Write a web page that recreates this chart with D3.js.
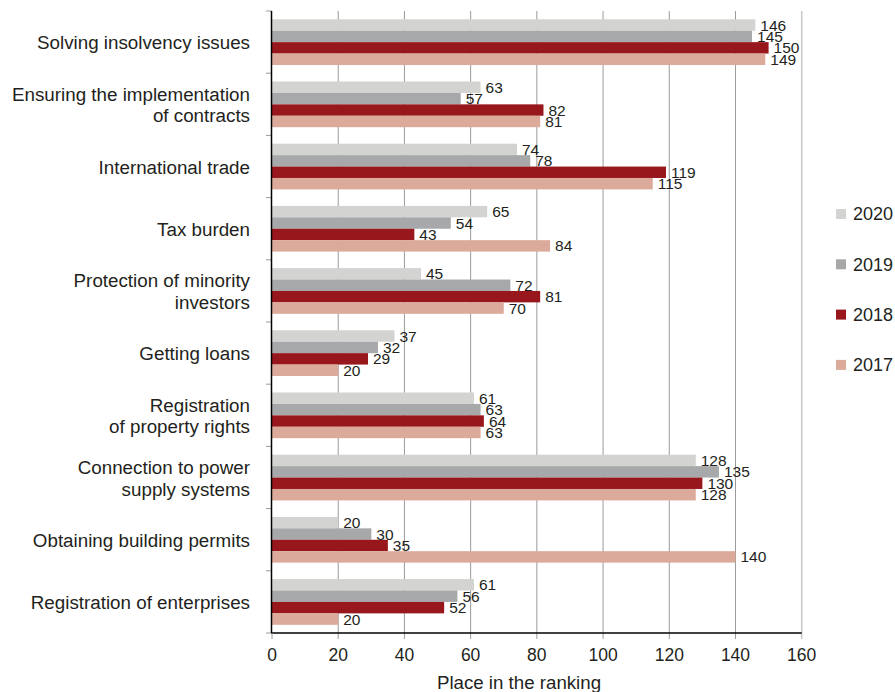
<!DOCTYPE html>
<html lang="en">
    <head>
        <meta charset="UTF-8" />
        <title>Place in the ranking</title>
        <script src="https://d3js.org/d3.v7.min.js"></script>
        <style>
            body {
                margin: 0;
                background: #fff;
            }
            svg text {
                font-family: "Liberation Sans", Arial, Helvetica, sans-serif;
                fill: #231f20;
            }
        </style>
    </head>
    <body>
        <svg id="chart" width="895" height="692"></svg>

        <script>
            const categories = [
                ["Solving insolvency issues"],
                ["Ensuring the implementation", "of contracts"],
                ["International trade"],
                ["Tax burden"],
                ["Protection of minority", "investors"],
                ["Getting loans"],
                ["Registration", "of property rights"],
                ["Connection to power", "supply systems"],
                ["Obtaining building permits"],
                ["Registration of enterprises"],
            ];
            const years = ["2020", "2019", "2018", "2017"];
            const values2020 = [146, 63, 74, 65, 45, 37, 61, 128, 20, 61];
            const values2019 = [145, 57, 78, 54, 72, 32, 63, 135, 30, 56];
            const values2018 = [150, 82, 119, 43, 81, 29, 64, 130, 35, 52];
            const values2017 = [149, 81, 115, 84, 70, 20, 63, 128, 140, 20];
            const xTicks = [0, 20, 40, 60, 80, 100, 120, 140, 160];

            const seriesValues = {
                2020: values2020,
                2019: values2019,
                2018: values2018,
                2017: values2017,
            };
            const colors = {
                2020: "#d3d3d1",
                2019: "#a7a8aa",
                2018: "#98171d",
                2017: "#dbaa9a",
            };

            const svg = d3.select("#chart");
            const plotLeft = 272,
                plotRight = 801.7,
                plotTop = 11,
                plotBottom = 633;

            const keys = categories.map((c) => c.join(" "));

            const x = d3
                .scaleLinear()
                .domain([0, 160])
                .range([plotLeft, plotRight]);
            const y0 = d3
                .scaleBand()
                .domain(keys)
                .range([plotTop, plotBottom]);
            const y1 = d3
                .scaleBand()
                .domain(years)
                .range([8.3, y0.bandwidth() - 8.2]);

            // grid lines
            svg.append("g")
                .selectAll("line")
                .data(xTicks.slice(1))
                .enter()
                .append("line")
                .attr("x1", (d) => x(d))
                .attr("x2", (d) => x(d))
                .attr("y1", plotTop)
                .attr("y2", plotBottom + 6)
                .attr("stroke", (d) => (d === 160 ? "#c8c8c8" : "#9a9a9a"))
                .attr("stroke-width", (d) => (d === 160 ? 1.5 : 1));

            // bars
            const groups = svg
                .append("g")
                .selectAll("g")
                .data(keys)
                .enter()
                .append("g")
                .attr("transform", (d) => `translate(0,${y0(d)})`);

            groups
                .selectAll("rect")
                .data((d, i) =>
                    years.map((yr) => ({ yr, v: seriesValues[yr][i] }))
                )
                .enter()
                .append("rect")
                .attr("x", x(0))
                .attr("y", (d) => y1(d.yr))
                .attr("width", (d) => x(d.v) - x(0))
                .attr("height", y1.bandwidth())
                .attr("fill", (d) => colors[d.yr]);

            groups
                .selectAll("text")
                .data((d, i) =>
                    years.map((yr) => ({ yr, v: seriesValues[yr][i] }))
                )
                .enter()
                .append("text")
                .attr("x", (d) => x(d.v) + 5)
                .attr("y", (d) => y1(d.yr) + y1.bandwidth() / 2)
                .attr("dy", "0.36em")
                .style("font-size", "15.5px")
                .text((d) => d.v);

            // y axis
            svg.append("g")
                .selectAll("line")
                .data(keys.map((k) => y0(k)).concat([plotBottom]))
                .enter()
                .append("line")
                .attr("x1", plotLeft - 6)
                .attr("x2", plotLeft)
                .attr("y1", (d) => d)
                .attr("y2", (d) => d)
                .attr("stroke", "#9a9a9a");

            svg.append("line")
                .attr("x1", plotLeft - 0.5)
                .attr("x2", plotLeft - 0.5)
                .attr("y1", plotTop)
                .attr("y2", plotBottom)
                .attr("stroke", "#000")
                .attr("stroke-width", 1.5);

            // category labels
            const labels = svg
                .append("g")
                .selectAll("text")
                .data(categories)
                .enter()
                .append("text")
                .attr("text-anchor", "end")
                .attr("x", 250)
                .attr("y", (d, i) => y0(keys[i]) + y0.bandwidth() / 2 + 0.5)
                .style("font-size", "18.8px");

            labels
                .selectAll("tspan")
                .data((d) => d.map((t, j) => ({ t, j, n: d.length })))
                .enter()
                .append("tspan")
                .attr("x", 250)
                .attr("dy", (d) =>
                    d.j === 0 ? `${0.36 - (d.n - 1) * 0.58}em` : "1.16em"
                )
                .text((d) => d.t);

            // x axis
            svg.append("line")
                .attr("x1", plotLeft - 1)
                .attr("x2", plotRight)
                .attr("y1", plotBottom)
                .attr("y2", plotBottom)
                .attr("stroke", "#000")
                .attr("stroke-width", 1.5);

            svg.append("line")
                .attr("x1", x(0))
                .attr("x2", x(0))
                .attr("y1", plotBottom)
                .attr("y2", plotBottom + 6)
                .attr("stroke", "#9a9a9a");

            svg.append("g")
                .selectAll("text")
                .data(xTicks)
                .enter()
                .append("text")
                .attr("x", (d) => x(d))
                .attr("y", 655)
                .attr("dy", "0.36em")
                .attr("text-anchor", "middle")
                .style("font-size", "17.5px")
                .text((d) => d);

            svg.append("text")
                .attr("x", 519)
                .attr("y", 682)
                .attr("dy", "0.36em")
                .attr("text-anchor", "middle")
                .style("font-size", "18.7px")
                .text("Place in the ranking");

            // legend
            const legend = svg
                .append("g")
                .selectAll("g")
                .data(years)
                .enter()
                .append("g")
                .attr(
                    "transform",
                    (d, i) => `translate(836,${214 + i * 50.3})`
                );

            legend
                .append("rect")
                .attr("x", 0)
                .attr("y", -5)
                .attr("width", 10)
                .attr("height", 10)
                .attr("fill", (d) => colors[d]);

            legend
                .append("text")
                .attr("x", 17)
                .attr("y", 0)
                .attr("dy", "0.36em")
                .style("font-size", "18px")
                .text((d) => d);
        </script>
    </body>
</html>
